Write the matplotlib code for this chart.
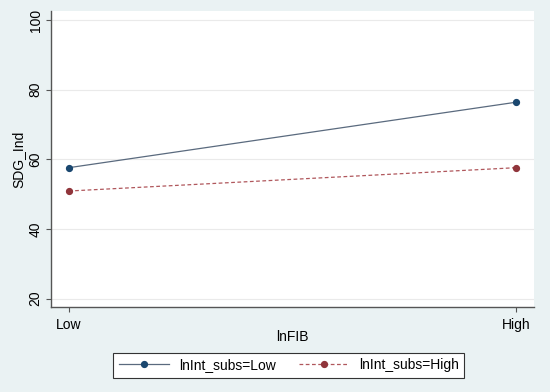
import matplotlib

matplotlib.use("Agg")
import matplotlib.pyplot as plt

X_LABELS = ["Low", "High"]
X_POS = [0, 1]
SDG_INT_LOW = [57.6, 76.4]
SDG_INT_HIGH = [50.9, 57.6]
Y_TICKS = [20, 40, 60, 80, 100]

BG = "#EAF2F3"
NAVY = "#1A476F"
MAROON = "#90353B"

plt.rcParams["font.family"] = ["Liberation Sans", "DejaVu Sans"]

fig = plt.figure(figsize=(5.5, 3.92), dpi=100, facecolor=BG)
ax = fig.add_axes([0.0927, 0.216, 0.8782, 0.756])
ax.set_facecolor("white")

ax.plot(X_POS, SDG_INT_LOW, color="#5A6A7E", lw=0.9, marker="o", ms=4.2,
        mfc=NAVY, mec=NAVY, label="lnInt_subs=Low")
ax.plot(X_POS, SDG_INT_HIGH, color="#B0575C", lw=0.9, ls=(0, (3, 2)), marker="o",
        ms=4.2, mfc=MAROON, mec=MAROON, label="lnInt_subs=High")

ax.set_xlim(-0.04, 1.04)
ax.set_ylim(17.5, 102.6)
ax.set_xticks(X_POS)
ax.set_xticklabels(X_LABELS)
ax.set_yticks(Y_TICKS)
ax.tick_params(axis="y", labelrotation=90, labelsize=10, color="#555555",
               length=3.6, pad=2.5)
ax.tick_params(axis="x", labelsize=10, color="#555555", length=3.6, pad=4)
for lbl in ax.get_yticklabels():
    lbl.set_va("center")

ax.grid(True, axis="y", color="#EAEAEA", lw=0.8)
ax.set_axisbelow(True)
for side in ("top", "right"):
    ax.spines[side].set_visible(False)
for side in ("left", "bottom"):
    ax.spines[side].set_color("#555555")
    ax.spines[side].set_linewidth(1.0)

ax.set_xlabel("lnFIB", fontsize=10, labelpad=-1)
ax.set_ylabel("SDG_Ind", fontsize=10, labelpad=2)

leg = fig.legend(loc="center", bbox_to_anchor=(0.525, 0.068), ncol=2, fontsize=10,
                 handlelength=3.6, handletextpad=0.7, columnspacing=1.7,
                 fancybox=False, framealpha=1, edgecolor="#333333", borderpad=0.4)
leg.get_frame().set_linewidth(0.8)

fig.savefig("out.png", dpi=100, facecolor=BG)
